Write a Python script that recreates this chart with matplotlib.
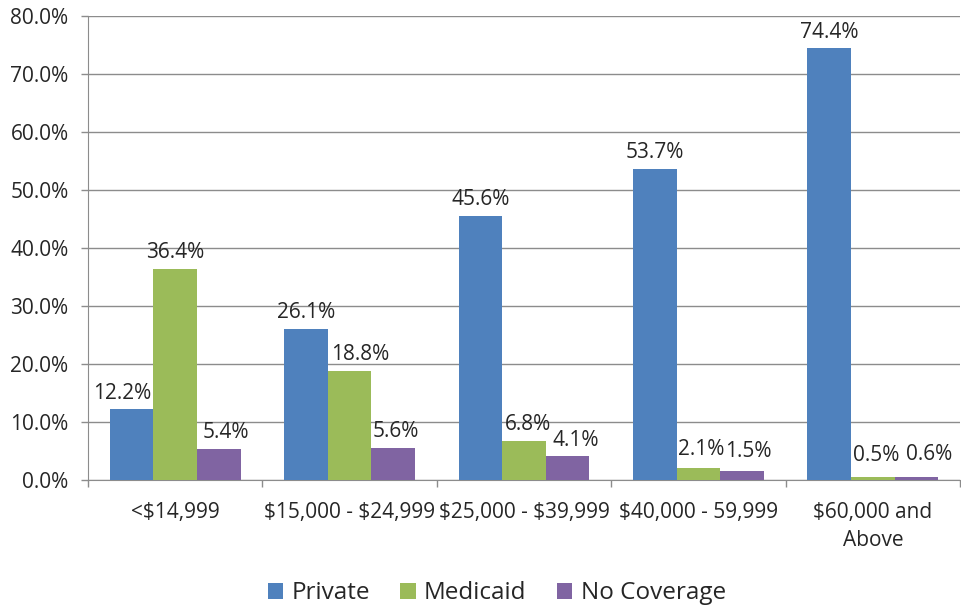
import matplotlib

matplotlib.use("Agg")
import matplotlib.pyplot as plt
import numpy as np
from matplotlib.ticker import FuncFormatter, MultipleLocator

plt.rcParams["font.family"] = ["Open Sans", "DejaVu Sans"]

CATEGORIES = ["<\\$14,999", "\\$15,000 - \\$24,999", "\\$25,000 - \\$39,999", "\\$40,000 - 59,999", "\\$60,000 and\nAbove"]
PRIVATE = [12.2, 26.1, 45.6, 53.7, 74.4]
MEDICAID = [36.4, 18.8, 6.8, 2.1, 0.5]
NO_COVERAGE = [5.4, 5.6, 4.1, 1.5, 0.6]

SERIES = [
    ("Private", PRIVATE, "#4F81BD"),
    ("Medicaid", MEDICAID, "#9BBB59"),
    ("No Coverage", NO_COVERAGE, "#8064A2"),
]

# sideways nudge (px) of data labels, the way Excel shifts crowded ones
LABEL_NUDGE = {
    "Private": [-9, 0, 0, 0, 0],
    "Medicaid": [0, 11, 4, 3, 3],
    "No Coverage": [7, 3, 8, 6, 13],
}

TEXT = "#262626"
GRID = "#8c8c8c"


def main():
    fig = plt.figure(figsize=(9.61, 6.08), dpi=100)
    ax = fig.add_axes([0.0916, 0.2105, 0.9074, 0.7632])

    x = np.arange(len(CATEGORIES))
    width = 0.25
    for i, (label, values, color) in enumerate(SERIES):
        pos = x + (i - 1) * width
        bars = ax.bar(pos, values, width, color=color, label=label, zorder=3)
        for b, v, dx in zip(bars, values, LABEL_NUDGE[label]):
            # excel keeps labels of tiny bars clear of the axis
            dy = 4 if v >= 3 else 9 - v * 1.5
            ax.annotate(f"{v:.1f}%", (b.get_x() + b.get_width() / 2, v),
                        xytext=(dx * 0.72, dy), textcoords="offset points",
                        ha="center", va="bottom", fontsize=15, color=TEXT)

    ax.set_xlim(-0.5, len(CATEGORIES) - 0.5)
    ax.set_ylim(0, 80)
    ax.yaxis.set_major_locator(MultipleLocator(10))
    ax.yaxis.set_major_formatter(FuncFormatter(lambda v, _: f"{v:.1f}%"))
    ax.grid(axis="y", color=GRID, linewidth=1.0, zorder=0)
    ax.set_axisbelow(True)

    ax.set_xticks(x)
    ax.set_xticklabels(CATEGORIES, linespacing=1.45)
    ax.set_xticks(np.arange(len(CATEGORIES) + 1) - 0.5, minor=True)
    ax.tick_params(axis="x", which="major", length=0, pad=16, labelsize=15, labelcolor=TEXT)
    ax.tick_params(axis="x", which="minor", length=5, color=GRID, width=1.0)
    ax.tick_params(axis="y", length=5, color=GRID, width=1.0, labelsize=15, labelcolor=TEXT, pad=9)

    for side in ["top", "right"]:
        ax.spines[side].set_visible(False)
    ax.spines["left"].set_color(GRID)
    ax.spines["bottom"].set_color(GRID)

    handles, labels = ax.get_legend_handles_labels()
    fig.legend(handles, labels, loc="center", bbox_to_anchor=(0.517, 0.024), ncol=3,
               frameon=False, fontsize=17.5, handlelength=0.62, handleheight=0.62,
               handletextpad=0.35, columnspacing=1.25, labelcolor=TEXT)

    fig.savefig("out.png", dpi=100)
    plt.close(fig)


if __name__ == "__main__":
    main()
